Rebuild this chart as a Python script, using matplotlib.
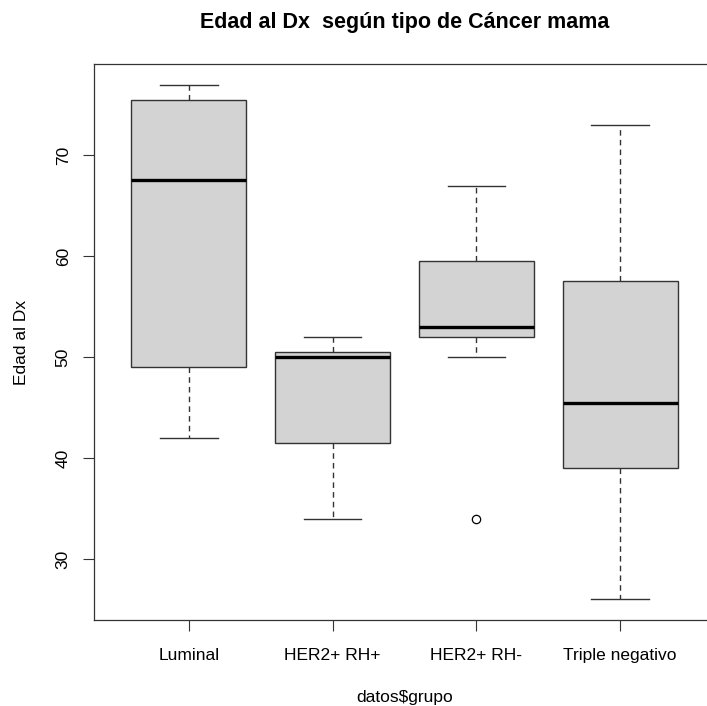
import matplotlib
matplotlib.use("Agg")
import matplotlib.pyplot as plt

plt.rcParams['font.family'] = ['Liberation Sans', 'DejaVu Sans']

# --- Data (five-number summaries) ---
grupos = ['Luminal', 'HER2+ RH+', 'HER2+ RH-', 'Triple negativo']
whisker_low = [42, 34, 50, 26]
q1 = [49, 41.5, 52, 39]
mediana = [67.5, 50, 53, 45.5]
q3 = [75.5, 50.5, 59.5, 57.5]
whisker_high = [77, 52, 67, 73]
outliers = [[], [], [34], []]
yticks = [30, 40, 50, 60, 70]

stats = []
for i, g in enumerate(grupos):
    stats.append(dict(label=g, whislo=whisker_low[i], q1=q1[i], med=mediana[i],
                      q3=q3[i], whishi=whisker_high[i], fliers=outliers[i]))

fig = plt.figure(figsize=(7.07, 7.06), dpi=100)
ax = fig.add_axes([94/707, 86/706, 621/707, 556/706])

edge = '#333333'
ax.bxp(stats, positions=range(1, 5), widths=0.8, patch_artist=True,
       boxprops=dict(facecolor='#D3D3D3', edgecolor=edge, linewidth=1.0),
       medianprops=dict(color='black', linewidth=2.4),
       whiskerprops=dict(color=edge, linewidth=1.0, linestyle=(0, (4, 3))),
       capprops=dict(color=edge, linewidth=1.0),
       capwidths=0.4,
       flierprops=dict(marker='o', markerfacecolor='none', markeredgecolor='black',
                       markersize=6, markeredgewidth=0.9))

ax.set_xlim(0.34, 4.66)
ax.set_ylim(23.96, 79.04)
ax.set_yticks(yticks)
ax.set_xticks(range(1, 5))
ax.set_xticklabels(grupos)
ax.tick_params(axis='both', length=7.8, width=0.8, color=edge, labelsize=12.5)
ax.tick_params(axis='x', pad=12.5)
ax.tick_params(axis='y', labelrotation=90, pad=9)
for lbl in ax.get_yticklabels():
    lbl.set_va('center')
for s in ax.spines.values():
    s.set_color(edge)
    s.set_linewidth(0.9)

ax.set_ylabel('Edad al Dx', fontsize=12.5, labelpad=19)
fig.text((94 + 715) / 2 / 707, 1 - 702 / 706, 'datos$grupo', ha='center', va='baseline',
         fontsize=12.5)
fig.text((94 + 715) / 2 / 707, 1 - 28 / 706, 'Edad al Dx  según tipo de Cáncer mama',
         ha='center', va='baseline', fontsize=15.5, fontweight='bold')

fig.savefig('out.png', dpi=100)
